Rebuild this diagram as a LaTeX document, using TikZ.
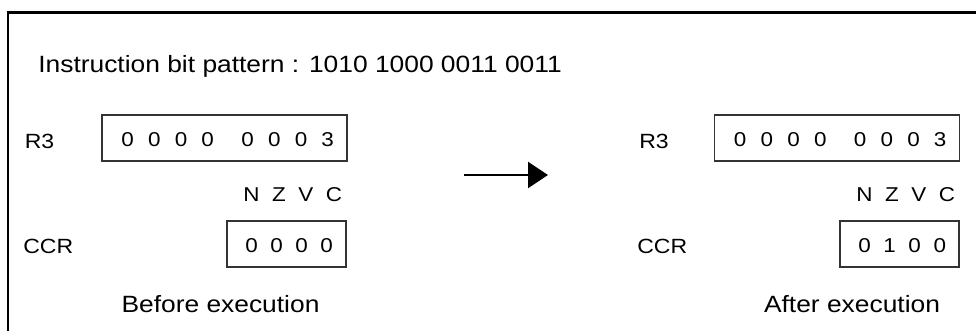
\documentclass[tikz,border=0pt]{standalone}
\usepackage{fontspec}
\setmainfont{Liberation Sans}[FakeStretch=1.12]
\usepackage{tikz}
\usetikzlibrary{arrows.meta}
\usetikzlibrary{positioning}
\pgfdeclarelayer{edgelayer}
\pgfdeclarelayer{nodelayer}
\pgfsetlayers{edgelayer,nodelayer,main}
\newcommand{\bigtxt}{\fontsize{13.4}{16}\selectfont}
\newcommand{\lbltxt}{\fontsize{11.7}{14}\selectfont}
\newcommand{\bittxt}{\fontsize{11.4}{14}\selectfont}
\tikzstyle{none}=[inner sep=0mm]
\tikzstyle{txt}=[none,font=\bigtxt]
\tikzstyle{lbl}=[none,font=\lbltxt]
\tikzstyle{flags}=[none,font=\bittxt,execute at begin node={\spaceskip=7.15pt\relax}]
\tikzstyle{reg}=[draw=black!80,line width=0.74pt,inner xsep=0.26cm,inner ysep=0mm,minimum height=0.92cm,text height=0.36cm,text depth=0mm,align=right,font=\bittxt]
\tikzstyle{r3}=[reg,text width=4.38cm,execute at begin node={\spaceskip=8.08pt\relax}]
\tikzstyle{ccr}=[reg,text width=1.86cm,execute at begin node={\spaceskip=7.15pt\relax}]
\tikzstyle{bframe}=[line width=1.48pt,line join=miter]
\tikzstyle{arr}=[line width=1.25pt,-{Triangle[length=0.4cm,width=0.52cm]}]

\begin{document}
\begin{tikzpicture}
	\useasboundingbox (0,0) rectangle (19.52,-6.62);
	\begin{pgfonlayer}{nodelayer}
		\node [style=txt, anchor=base west] (1) at (0.76, -1.45) {Instruction bit pattern : 1010 1000 0011 0011};
		\node [style=lbl, anchor=base west] (2) at (0.49, -2.97) {R3};
		\node [style=r3] (3) at (4.49, -2.76) {0 0 0 0\hspace{15.65pt}0 0 0 3};
		\node [style=flags, anchor=base east] (4) at (6.85, -4.03) {N Z V C};
		\node [style=lbl, anchor=base west] (5) at (0.46, -5.07) {CCR};
		\node [style=ccr] (6) at (5.73, -4.88) {0 0 0 0};
		\node [style=txt, anchor=base] (7) at (4.41, -6.25) {Before execution};
		\coordinate (8) at (9.28, -3.5);
		\coordinate (9) at (10.96, -3.5);
		\node [style=lbl, anchor=base west] (10) at (12.78, -2.97) {R3};
		\node [style=r3] (11) at (16.74, -2.76) {0 0 0 0\hspace{15.65pt}0 0 0 3};
		\node [style=flags, anchor=base east] (12) at (19.11, -4.03) {N Z V C};
		\node [style=lbl, anchor=base west] (13) at (12.74, -5.07) {CCR};
		\node [style=ccr] (14) at (17.99, -4.88) {0 1 0 0};
		\node [style=txt, anchor=base] (15) at (17.04, -6.25) {After execution};
		\coordinate (16) at (0.16, -6.8);
		\coordinate (17) at (0.16, -0.256);
		\coordinate (18) at (19.7, -0.256);
	\end{pgfonlayer}
	\begin{pgfonlayer}{edgelayer}
		\draw [style=bframe] (16) -- (17) -- (18);
		\draw [style=arr] (8) to (9);
	\end{pgfonlayer}
\end{tikzpicture}
\end{document}
